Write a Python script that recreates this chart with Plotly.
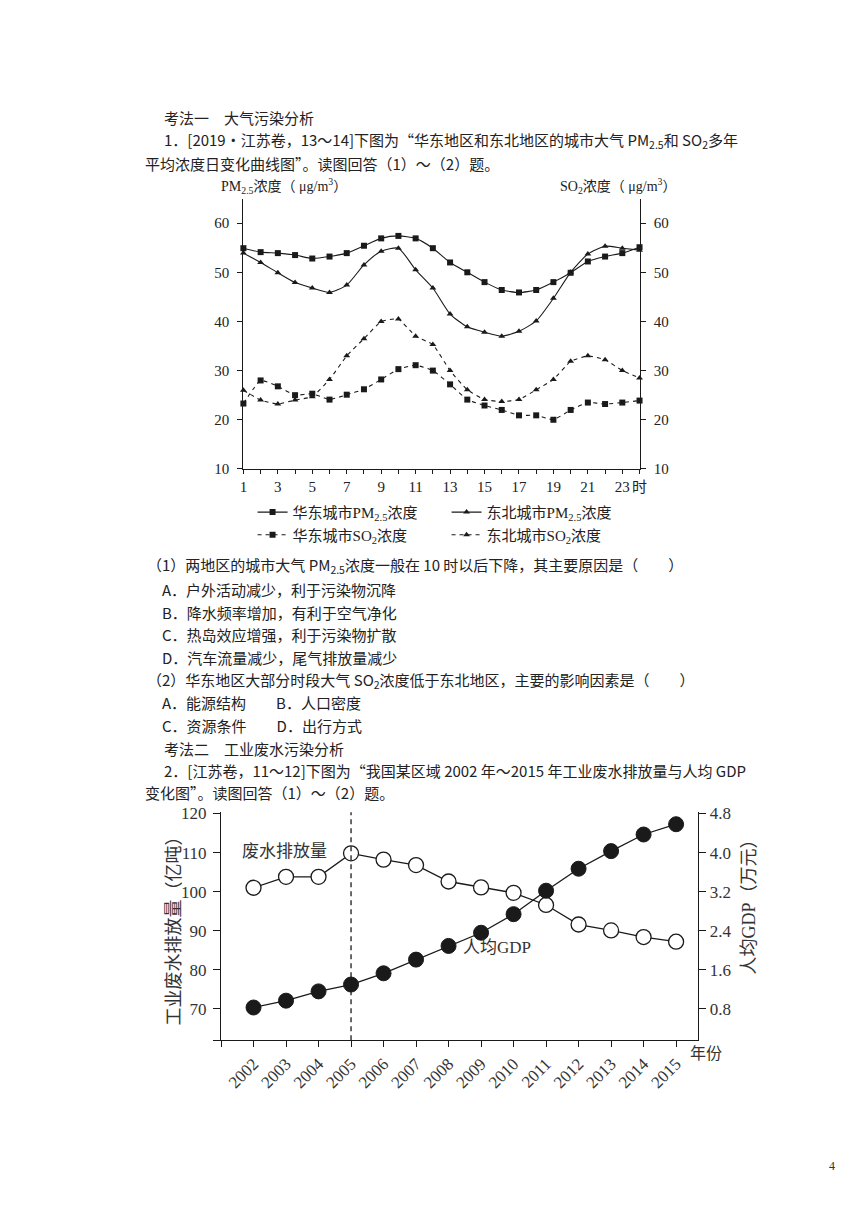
import plotly.graph_objects as go

# The page has an 8px body margin; map reference page pixels to figure paper coords.
OFF = 8
W, H = 852, 1208
def X(px): return (px - OFF) / W
def Y(py): return 1 - (py - OFF) / H

# ---------------- Data: chart 1 ----------------
hours = list(range(1, 25))
east_pm25 = [54.9, 54.1, 53.9, 53.5, 52.8, 53.2, 53.9, 55.4, 56.9, 57.4, 56.9, 54.9,
             52.0, 50.0, 48.0, 46.4, 45.9, 46.4, 48.0, 49.9, 52.2, 53.2, 53.9, 55.1]
ne_pm25 = [53.9, 52.0, 49.9, 47.9, 46.8, 45.9, 47.4, 51.5, 54.3, 54.9, 50.5, 46.8,
           41.5, 38.9, 37.8, 37.0, 38.0, 40.1, 44.7, 50.0, 53.7, 55.3, 54.9, 54.5]
east_so2 = [23.3, 28.0, 26.8, 25.0, 25.3, 24.1, 25.1, 26.2, 28.2, 30.3, 31.1, 30.0,
            27.2, 24.1, 22.9, 22.0, 20.9, 20.9, 20.0, 22.0, 23.5, 23.2, 23.5, 23.9]
ne_so2 = [26.0, 24.0, 23.2, 24.0, 24.7, 28.2, 33.0, 36.5, 40.0, 40.5, 37.0, 35.3,
          30.0, 26.1, 24.1, 23.7, 24.1, 26.1, 28.2, 31.9, 33.0, 32.2, 30.0, 28.5]
hour_ticktext = [str(h) if h % 2 == 1 else "" for h in hours]
hour_ticktext[-1] = "时"
conc_ticks = [10, 20, 30, 40, 50, 60]

# ---------------- Data: chart 2 ----------------
years = list(range(2002, 2016))
wastewater = [101.0, 103.8, 103.8, 109.8, 108.2, 106.8, 102.6, 101.1, 99.7, 96.6,
              91.6, 90.1, 88.4, 87.2]
gdp = [0.83, 0.97, 1.16, 1.30, 1.53, 1.81, 2.09, 2.36, 2.74, 3.22, 3.67, 4.03, 4.37, 4.58]
ww_ticks = [62, 70, 80, 90, 100, 110, 120]
ww_ticktext = ["", "70", "80", "90", "100", "110", "120"]
gdp_ticks = [0.8, 1.6, 2.4, 3.2, 4.0, 4.8]
gdp_ticktext = ["0.8", "1.6", "2.4", "3.2", "4.0", "4.8"]
year_ticks = list(range(2001, 2016))
year_ticktext = [""] + [str(y) for y in years]

SERIF = "Liberation Serif, Noto Sans CJK SC"
CJK = "Noto Sans CJK SC"
INK = "#1a1a1a"

fig = go.Figure()

# chart 1 traces
fig.add_trace(go.Scatter(x=hours, y=east_pm25, name="华东城市PM<sub>2.5</sub>浓度",
                         mode="lines+markers", line=dict(color=INK, width=1.1, shape="spline", smoothing=0.6),
                         marker=dict(symbol="square", size=6, color=INK), cliponaxis=False,
                         xaxis="x", yaxis="y", legend="legend"))
fig.add_trace(go.Scatter(x=hours, y=ne_pm25, name="东北城市PM<sub>2.5</sub>浓度",
                         mode="lines+markers", line=dict(color=INK, width=1.1, shape="spline", smoothing=0.6),
                         marker=dict(symbol="triangle-up", size=6, color=INK), cliponaxis=False,
                         xaxis="x", yaxis="y", legend="legend"))
fig.add_trace(go.Scatter(x=hours, y=east_so2, name="华东城市SO<sub>2</sub>浓度",
                         mode="lines+markers", line=dict(color=INK, width=1.1, dash="4px,4px", shape="spline", smoothing=0.4),
                         marker=dict(symbol="square", size=6, color=INK), cliponaxis=False,
                         xaxis="x", yaxis="y2", legend="legend2"))
fig.add_trace(go.Scatter(x=hours, y=ne_so2, name="东北城市SO<sub>2</sub>浓度",
                         mode="lines+markers", line=dict(color=INK, width=1.1, dash="4px,4px", shape="spline", smoothing=0.4),
                         marker=dict(symbol="triangle-up", size=6, color=INK), cliponaxis=False,
                         xaxis="x", yaxis="y2", legend="legend2"))

# chart 2 traces
fig.add_trace(go.Scatter(x=years, y=gdp, name="人均GDP", mode="lines+markers",
                         line=dict(color=INK, width=1.3),
                         marker=dict(symbol="circle", size=15, color=INK, line=dict(color=INK, width=1)),
                         cliponaxis=False, xaxis="x2", yaxis="y4", showlegend=False))
fig.add_trace(go.Scatter(x=years, y=wastewater, name="废水排放量", mode="lines+markers",
                         line=dict(color=INK, width=1.3),
                         marker=dict(symbol="circle", size=15, color="white", line=dict(color=INK, width=1.3)),
                         cliponaxis=False, xaxis="x2", yaxis="y3", showlegend=False))

axis_common = dict(showgrid=False, zeroline=False, showline=True, linecolor=INK, linewidth=1.2,
                   ticks="outside", tickcolor=INK)

fig.update_layout(
    width=W, height=H, margin=dict(l=0, r=0, t=0, b=0),
    paper_bgcolor="white", plot_bgcolor="white",
    xaxis=dict(domain=[X(242.7), X(644.5)], range=[1, 24], tickvals=hours, ticktext=hour_ticktext,
               ticklen=4, anchor="y", tickfont=dict(family=SERIF, size=15, color="#222"), **axis_common),
    yaxis=dict(domain=[Y(467), Y(193)], range=[10, 65], tickvals=conc_ticks, ticklen=5,
               ticklabelstandoff=5, anchor="x",
               tickfont=dict(family=SERIF, size=15, color="#222"), **axis_common),
    yaxis2=dict(overlaying="y", side="right", range=[10, 65], tickvals=conc_ticks, ticklen=5,
                ticklabelstandoff=5, anchor="x",
                tickfont=dict(family=SERIF, size=15, color="#222"), **axis_common),
    xaxis2=dict(domain=[X(220), X(704)], range=[2001, 2015.68], tickvals=year_ticks, ticktext=year_ticktext,
                tickangle=-45, ticklen=6, anchor="y3", tickfont=dict(family=SERIF, size=17, color="#333"),
                **axis_common),
    yaxis3=dict(domain=[Y(1046), Y(815)], range=[62, 120.3], tickvals=ww_ticks, ticktext=ww_ticktext,
                ticklen=7, ticklabelstandoff=3, anchor="x2",
                tickfont=dict(family=SERIF, size=17, color="#333"), **axis_common),
    yaxis4=dict(overlaying="y3", side="right", range=[0.16, 4.824], tickvals=gdp_ticks, ticktext=gdp_ticktext,
                ticklen=7, anchor="x2", tickfont=dict(family=SERIF, size=17, color="#333"), **axis_common),
    legend=dict(orientation="h", x=X(252), xanchor="left", y=Y(511), yanchor="middle",
                entrywidth=149, font=dict(family=SERIF, size=15, color="#222"),
                bgcolor="rgba(0,0,0,0)", borderwidth=0, tracegroupgap=0),
    legend2=dict(orientation="h", x=X(252), xanchor="left", y=Y(534), yanchor="middle",
                 entrywidth=149, font=dict(family=SERIF, size=15, color="#222"),
                 bgcolor="rgba(0,0,0,0)", borderwidth=0, tracegroupgap=0),
)

ann = []
def text(px, py, s, size=15, family=CJK, color="#222", xanchor="left", angle=0):
    ann.append(dict(x=X(px), y=Y(py), xref="paper", yref="paper", text=s, showarrow=False,
                    xanchor=xanchor, yanchor="middle", textangle=angle,
                    font=dict(family=family, size=size, color=color)))

body = [
    (160, 111, "考法一　大气污染分析"),
    (160, 134, "1．[2019·江苏卷，13～14]下图为“华东地区和东北地区的城市大气 PM<sub>2.5</sub>和 SO<sub>2</sub>多年"),
    (141, 157, "平均浓度日变化曲线图”。读图回答（1）～（2）题。"),
    (143, 565, "（1）两地区的城市大气 PM<sub>2.5</sub>浓度一般在 10 时以后下降，其主要原因是（　　）"),
    (158, 589, "A．户外活动减少，利于污染物沉降"),
    (158, 612, "B．降水频率增加，有利于空气净化"),
    (158, 635, "C．热岛效应增强，利于污染物扩散"),
    (158, 658, "D．汽车流量减少，尾气排放量减少"),
    (143, 681, "（2）华东地区大部分时段大气 SO<sub>2</sub>浓度低于东北地区，主要的影响因素是（　　）"),
    (158, 704, "A．能源结构　　B．人口密度"),
    (158, 727, "C．资源条件　　D．出行方式"),
    (160, 750, "考法二　工业废水污染分析"),
    (160, 773, "2．[江苏卷，11～12]下图为“我国某区域 2002 年～2015 年工业废水排放量与人均 GDP"),
    (141, 795, "变化图”。读图回答（1）～（2）题。"),
]
for px, py, s in body:
    text(px, py, s, size=15)

# chart 1 axis titles
text(218, 180, "PM<sub>2.5</sub>浓度（ μg/m<sup>3</sup>）", size=14, family=SERIF)
text(562, 180, "SO<sub>2</sub>浓度（ μg/m<sup>3</sup>）", size=14, family=SERIF)

# chart 2 labels
text(284, 853, "废水排放量", size=17, family=CJK, color="#333", xanchor="center")
text(500, 952, "人均GDP", size=17, family=SERIF, color="#333", xanchor="center")
text(170, 931, "工业废水排放量（亿吨）", size=18, family=CJK, color="#333", xanchor="center", angle=-90)
text(756, 906, "人均GDP（万元）", size=18, family=SERIF, color="#333", xanchor="center", angle=-90)
text(694, 1058, "年份", size=16, family=CJK, color="#333")

# page number
text(840, 1173, "4", size=12, family=SERIF, color="#333", xanchor="center")

fig.update_layout(annotations=ann)

# dashed vertical reference at 2005
fig.add_shape(type="line", xref="x2", yref="y3 domain", x0=2005, x1=2005, y0=0, y1=1,
              line=dict(color=INK, width=1.3, dash="5px,4px"))

fig.write_html("out.html")
